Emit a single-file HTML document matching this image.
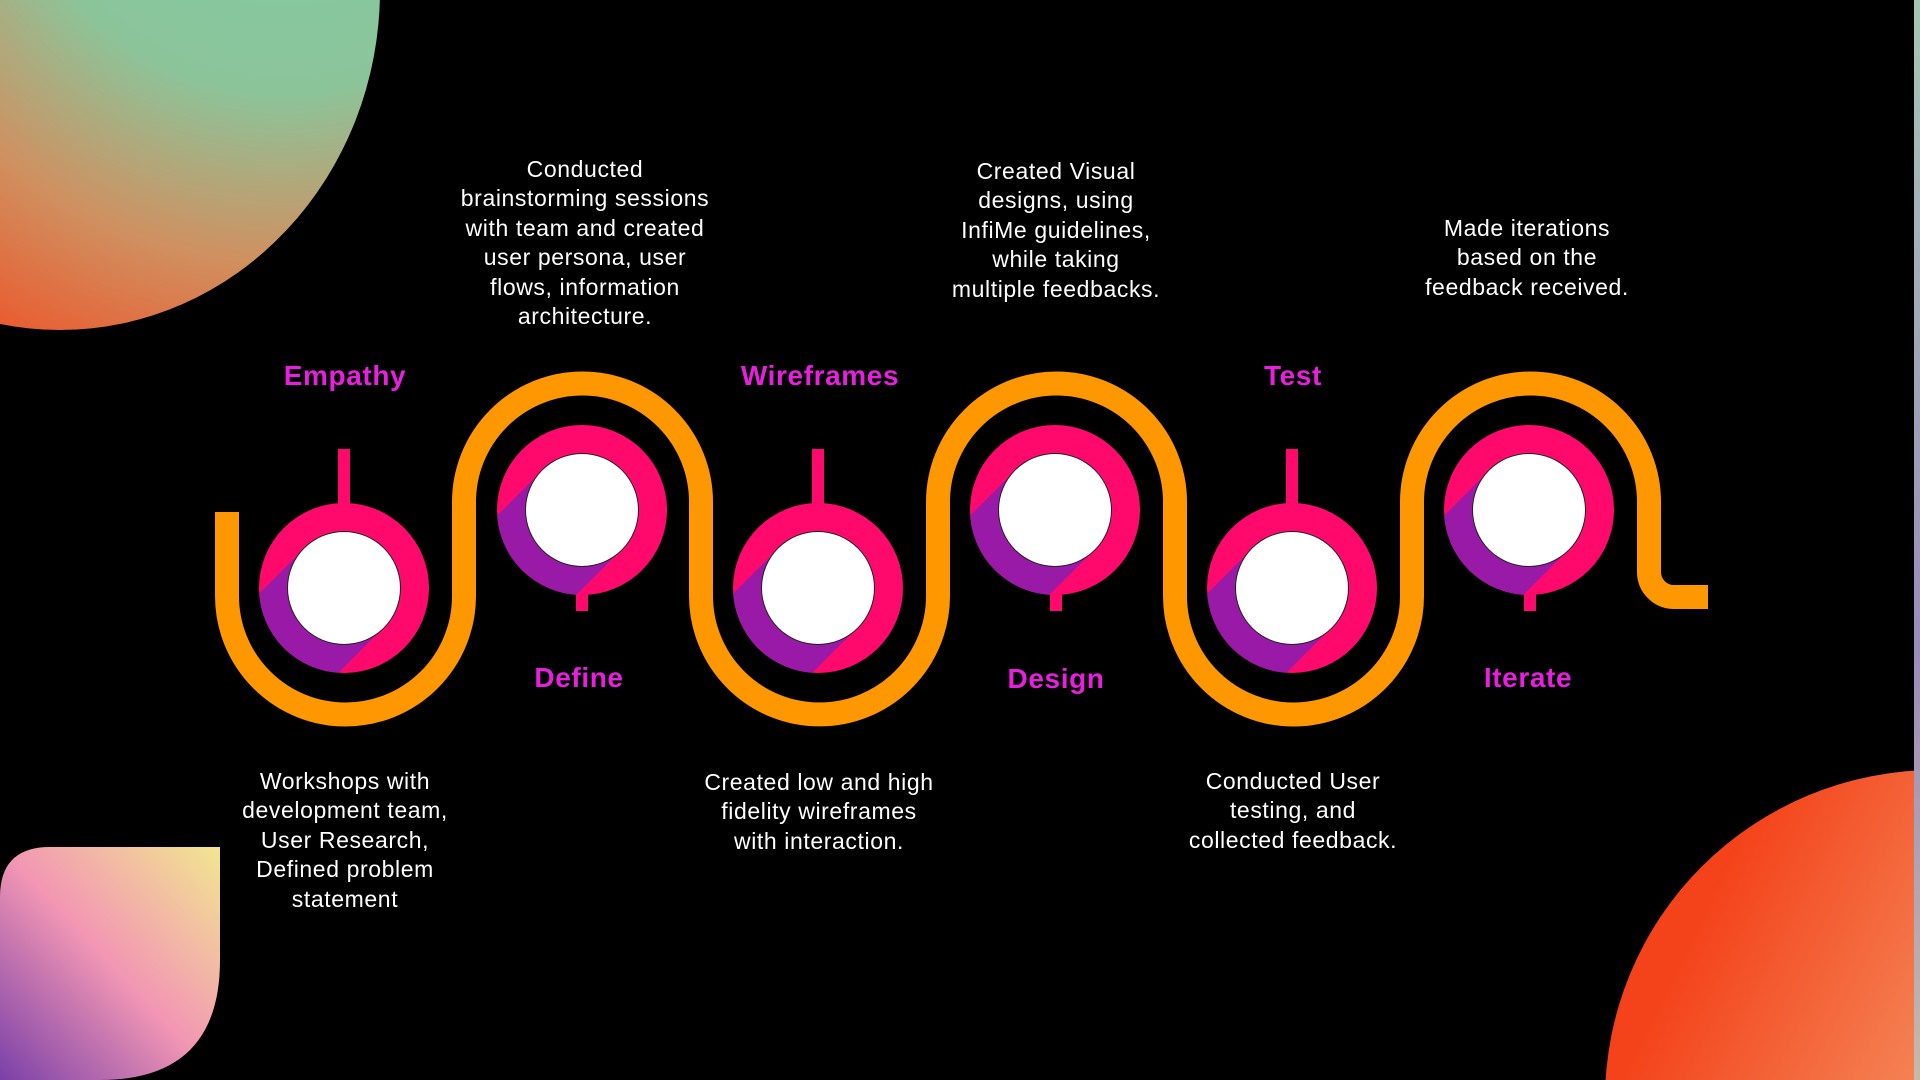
<!DOCTYPE html>
<html><head><meta charset="utf-8"><style>
html,body{margin:0;padding:0;background:#000;overflow:hidden;width:1920px;height:1080px;}
body{position:relative;font-family:"Liberation Sans",sans-serif;}
.t{position:absolute;color:#fff;font-size:23px;letter-spacing:0.6px;line-height:29.4px;text-align:center;transform:translateX(-50%);white-space:nowrap;}
.l{position:absolute;color:#e620dc;font-weight:bold;font-size:28px;letter-spacing:0.6px;transform:translate(-50%,-50%);white-space:nowrap;}
</style></head><body>
<svg width="1920" height="1080" style="position:absolute;left:0;top:0;display:block">
<defs>
<radialGradient id="g1" cx="0.85" cy="0.2" r="1">
<stop offset="0" stop-color="#7cd0aa"/><stop offset="0.45" stop-color="#8cc49a"/><stop offset="0.7" stop-color="#d09060"/><stop offset="1" stop-color="#f4461c"/></radialGradient>
<linearGradient id="g2" x1="1" y1="0" x2="0" y2="1">
<stop offset="0" stop-color="#f2e690"/><stop offset="0.5" stop-color="#f296b4"/><stop offset="1" stop-color="#7a40a8"/></linearGradient>
<linearGradient id="g3" x1="0" y1="0.5" x2="1" y2="1">
<stop offset="0" stop-color="#f4421a"/><stop offset="0.5" stop-color="#f49a6a"/><stop offset="1" stop-color="#b8d8a8"/></linearGradient>
<linearGradient id="g4" x1="0" y1="0" x2="0" y2="1">
<stop offset="0" stop-color="#a8c4b4"/><stop offset="0.6" stop-color="#9a8cb8"/><stop offset="1" stop-color="#c8b8a8"/></linearGradient>
<clipPath id="cp"><circle cx="0" cy="0" r="85"/></clipPath>
<g id="node">
<circle cx="0" cy="0" r="85" fill="#ff0a6c"/>
<rect x="0" y="-56" width="200" height="112" fill="#9a1aa8" clip-path="url(#cp)" transform="rotate(135)"/>
<circle cx="0" cy="0" r="57" fill="#222"/>
<circle cx="0" cy="0" r="56" fill="#fff"/>
</g>
</defs>
<ellipse cx="60" cy="-10" rx="320" ry="340" fill="url(#g1)"/>
<path d="M0,897 Q0,847 50,847 L220,847 L220,960 Q220,1080 100,1080 L0,1080 Z" fill="url(#g2)"/>
<circle cx="1935" cy="1100" r="330" fill="url(#g3)"/>
<rect x="1914" y="0" width="6" height="1080" fill="url(#g4)"/>
<path d="M227,512 L227,596 A118.5,118.5 0 0 0 464,596 L464,502 A118.5,118.5 0 0 1 701,502 L701,596 A118.5,118.5 0 0 0 938,596 L938,502 A118.5,118.5 0 0 1 1175,502 L1175,596 A118.5,118.5 0 0 0 1412,596 L1412,502 A118.5,118.5 0 0 1 1649,502 L1649,572 A25,25 0 0 0 1674,597 L1708,597" fill="none" stroke="#ff9800" stroke-width="24"/>
<rect x="338" y="449" width="12" height="60" fill="#ff0a6c"/>
<rect x="812" y="449" width="12" height="60" fill="#ff0a6c"/>
<rect x="1286" y="449" width="12" height="60" fill="#ff0a6c"/>
<rect x="576" y="585" width="12" height="26" fill="#ff0a6c"/>
<rect x="1050" y="585" width="12" height="26" fill="#ff0a6c"/>
<rect x="1524" y="585" width="12" height="26" fill="#ff0a6c"/>
<use href="#node" x="344" y="588"/>
<use href="#node" x="582" y="510"/>
<use href="#node" x="818" y="588"/>
<use href="#node" x="1055" y="510"/>
<use href="#node" x="1292" y="588"/>
<use href="#node" x="1529" y="510"/>
</svg>
<div class="l" style="left:345px;top:376px">Empathy</div>
<div class="l" style="left:820px;top:376px">Wireframes</div>
<div class="l" style="left:1293px;top:376px">Test</div>
<div class="l" style="left:579px;top:678px">Define</div>
<div class="l" style="left:1056px;top:679px">Design</div>
<div class="l" style="left:1528px;top:678px">Iterate</div>
<div class="t" style="left:585px;top:155px">Conducted<br>brainstorming sessions<br>with team and created<br>user persona, user<br>flows, information<br>architecture.</div>
<div class="t" style="left:1056px;top:157px">Created Visual<br>designs, using<br>InfiMe guidelines,<br>while taking<br>multiple feedbacks.</div>
<div class="t" style="left:1527px;top:214px">Made iterations<br>based on the<br>feedback received.</div>
<div class="t" style="left:345px;top:767px">Workshops with<br>development team,<br>User Research,<br>Defined problem<br>statement</div>
<div class="t" style="left:819px;top:768px">Created low and high<br>fidelity wireframes<br>with interaction.</div>
<div class="t" style="left:1293px;top:767px">Conducted User<br>testing, and<br>collected feedback.</div>
</body></html>
